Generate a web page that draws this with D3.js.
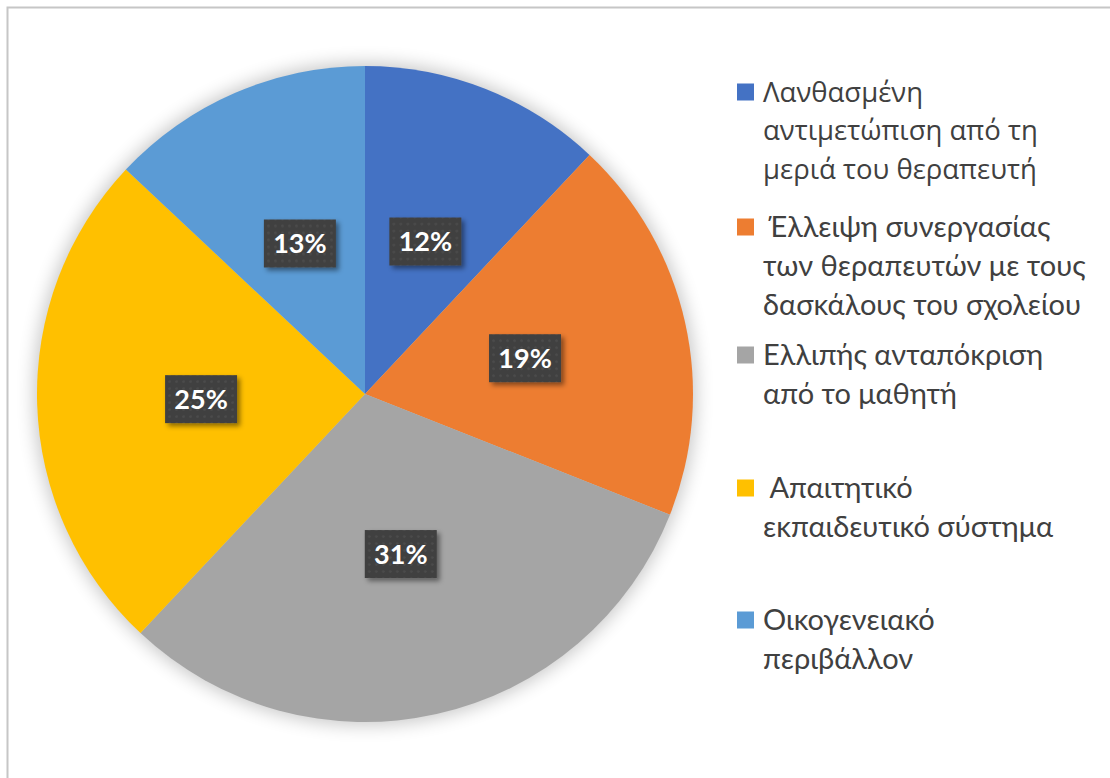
<!DOCTYPE html>
<html>
<head>
<meta charset="utf-8">
<script src="https://cdn.jsdelivr.net/npm/d3@7"></script>
<style>
  html, body { margin: 0; padding: 0; background: #ffffff; }
  svg { display: block; }
</style>
</head>
<body>
<svg id="chart" width="1110" height="778"></svg>
<script>
// Reasons for difficulties in therapy (share of responses, %)
const categories = [
  "Λανθασμένη αντιμετώπιση από τη μεριά του θεραπευτή",
  " Έλλειψη συνεργασίας των θεραπευτών με τους δασκάλους του σχολείου",
  "Ελλιπής ανταπόκριση από το μαθητή",
  " Απαιτητικό εκπαιδευτικό σύστημα",
  "Οικογενειακό περιβάλλον"
];
const values = [12, 19, 31, 25, 13];
const legendLines = [
  ["Λανθασμένη", "αντιμετώπιση από τη", "μεριά του θεραπευτή"],
  [" Έλλειψη συνεργασίας", "των θεραπευτών με τους", "δασκάλους του σχολείου"],
  ["Ελλιπής ανταπόκριση", "από το μαθητή"],
  [" Απαιτητικό", "εκπαιδευτικό σύστημα"],
  ["Οικογενειακό", "περιβάλλον"]
];
const colors = ["#4472C4", "#ED7D31", "#A5A5A5", "#FFC000", "#5B9BD5"];

const svg = d3.select("#chart");
const cx = 365, cy = 394, R = 328;

const defs = svg.append("defs");
const glow = defs.append("filter").attr("id", "glow")
  .attr("x", "-20%").attr("y", "-20%").attr("width", "140%").attr("height", "140%");
glow.append("feGaussianBlur").attr("stdDeviation", 9);

const boxShadow = defs.append("filter").attr("id", "boxShadow")
  .attr("x", "-30%").attr("y", "-30%").attr("width", "160%").attr("height", "160%");
boxShadow.append("feDropShadow").attr("dx", 3).attr("dy", 3)
  .attr("stdDeviation", 2.5).attr("flood-color", "#000").attr("flood-opacity", 0.45);

const dots = defs.append("pattern").attr("id", "dots")
  .attr("width", 7).attr("height", 7).attr("patternUnits", "userSpaceOnUse");
dots.append("rect").attr("width", 7).attr("height", 7).attr("fill", "#404040");
dots.append("circle").attr("cx", 3.5).attr("cy", 3.5).attr("r", 1.3).attr("fill", "#4d4d4d");

// chart area frame
svg.append("rect")
  .attr("x", 7.5).attr("y", 7.5).attr("width", 1200).attr("height", 900)
  .attr("fill", "none").attr("stroke", "#c6c6c6").attr("stroke-width", 2);

const g = svg.append("g").attr("transform", `translate(${cx},${cy})`);

// soft halo under the pie
g.append("circle").attr("r", R + 3).attr("fill", "#000").attr("opacity", 0.22)
  .attr("filter", "url(#glow)");

const pie = d3.pie().sort(null).value(d => d);
const arcs = pie(values);
const arc = d3.arc().innerRadius(0).outerRadius(R);
const labelArc = d3.arc().innerRadius(0).outerRadius(R);

g.selectAll("path.slice").data(arcs).join("path")
  .attr("class", "slice")
  .attr("d", arc)
  .attr("fill", (d, i) => colors[i]);

// value labels
const bw = 72, bh = 48;
const lab = g.selectAll("g.lab").data(arcs).join("g")
  .attr("class", "lab")
  .attr("transform", d => {
    const [x, y] = labelArc.centroid(d);
    return `translate(${x},${y})`;
  });
lab.append("rect")
  .attr("x", -bw / 2).attr("y", -bh / 2).attr("width", bw).attr("height", bh)
  .attr("fill", "url(#dots)").attr("filter", "url(#boxShadow)");
lab.append("text")
  .attr("text-anchor", "middle").attr("dy", "0.36em")
  .attr("font-family", "Lato, 'Open Sans', sans-serif")
  .attr("font-weight", "bold").attr("font-size", 27)
  .attr("fill", "#ffffff")
  .text(d => d.data + "%");

// legend
const legendY = [92, 227, 355, 488, 620];
const lineH = 38.7;
const leg = svg.selectAll("g.leg").data(categories).join("g")
  .attr("class", "leg")
  .attr("transform", (d, i) => `translate(737,${legendY[i]})`);
leg.append("rect")
  .attr("x", 0).attr("y", -8.5).attr("width", 17).attr("height", 17)
  .attr("fill", (d, i) => colors[i]);
leg.append("text")
  .attr("font-family", (d, i) => i === 0 ? "'Open Sans', sans-serif" : "Lato, 'Open Sans', sans-serif")
  .attr("font-size", (d, i) => i === 0 ? 27.5 : 29)
  .attr("fill", "#404040")
  .attr("xml:space", "preserve")
  .selectAll("tspan").data((d, i) => legendLines[i]).join("tspan")
  .attr("x", 26)
  .attr("y", (d, j) => j * lineH)
  .attr("dy", "0.35em")
  .text(d => d);
</script>
</body>
</html>
